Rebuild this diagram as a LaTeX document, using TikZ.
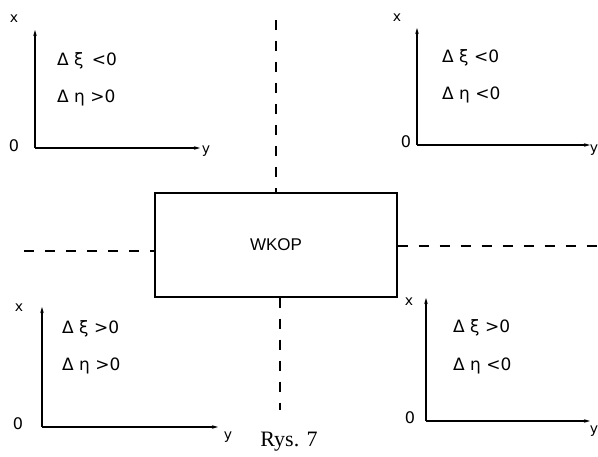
\documentclass[tikz,border=0pt]{standalone}
\usepackage{fontspec}
\setmainfont{Liberation Serif}
\newfontfamily\labfont{DejaVu Sans}
\newfontfamily\boxfont{Liberation Sans}
\usetikzlibrary{arrows.meta}
\begin{document}
\begin{tikzpicture}[x=1pt,y=-1pt,
  axis/.style={line width=1.2pt,-{Stealth[length=6pt,width=3.5pt]}},
  divline/.style={line width=1.2pt,dash pattern=on 10pt off 11pt},
  cond/.style={font=\labfont\fontsize{17}{17}\selectfont,anchor=west,inner sep=0pt},
  axlab/.style={font=\labfont\fontsize{14}{14}\selectfont,inner sep=0pt},
  zerolab/.style={font=\labfont\fontsize{16}{16}\selectfont,inner sep=0pt},
  boxstyle/.style={draw,line width=1.3pt,minimum width=242pt,minimum height=104pt,inner sep=0pt,font=\boxfont\fontsize{17}{17}\selectfont}]
\useasboundingbox (0,0) rectangle (598,457);
% central box
\node[boxstyle] (box) at (276,245) {WKOP};
% dividing dashed lines
\coordinate (vt) at (276,20);
\coordinate (vb) at (280,410);
\coordinate (hl) at (24,251);
\coordinate (hr) at (598,246);
\draw[divline] (vt) -- (vt |- box.north);
\draw[divline] (box.south -| vb) -- (vb);
\draw[divline] (hl) -- (hl -| box.west);
\draw[divline] (box.east |- hr) -- (hr);
% top-left axes
\coordinate (o1) at (35,148);
\coordinate (t1) at (35,30);
\coordinate (r1) at (200,148);
\draw[axis] (o1) -- (t1);
\draw[axis] (o1) -- (r1);
\node[axlab] (x1) at (14,19) {x};
\node[zerolab] (z1) at (14,146) {0};
\node[axlab] (y1) at (206,151) {y};
\node[cond] (a1) at (57,61) {Δ ξ \,<0};
\node[cond] (b1) at (57,98) {Δ η >0};
% top-right axes
\coordinate (o2) at (417,145);
\coordinate (t2) at (417,28);
\coordinate (r2) at (590,145);
\draw[axis] (o2) -- (t2);
\draw[axis] (o2) -- (r2);
\node[axlab] (x2) at (397,18) {x};
\node[zerolab] (z2) at (406,142) {0};
\node[axlab] (y2) at (594,150) {y};
\node[cond] (a2) at (442,58) {Δ ξ <0};
\node[cond] (b2) at (442,95) {Δ η <0};
% bottom-left axes
\coordinate (o3) at (42,427);
\coordinate (t3) at (42,307);
\coordinate (r3) at (218,427);
\draw[axis] (o3) -- (t3);
\draw[axis] (o3) -- (r3);
\node[axlab] (x3) at (19,308) {x};
\node[zerolab] (z3) at (18,424) {0};
\node[axlab] (y3) at (228,437) {y};
\node[cond] (a3) at (62,329) {Δ ξ >0};
\node[cond] (b3) at (62,366) {Δ η >0};
% bottom-right axes
\coordinate (o4) at (426,421);
\coordinate (t4) at (426,298);
\coordinate (r4) at (590,421);
\draw[axis] (o4) -- (t4);
\draw[axis] (o4) -- (r4);
\node[axlab] (x4) at (409,302) {x};
\node[zerolab] (z4) at (410,418) {0};
\node[axlab] (y4) at (594,431) {y};
\node[cond] (a4) at (453,328) {Δ ξ >0};
\node[cond] (b4) at (453,366) {Δ η <0};
% caption
\node[font=\fontsize{22}{22}\selectfont,anchor=base,inner sep=0pt] (cap) at (289,447) {Rys. 7};
\end{tikzpicture}
\end{document}
